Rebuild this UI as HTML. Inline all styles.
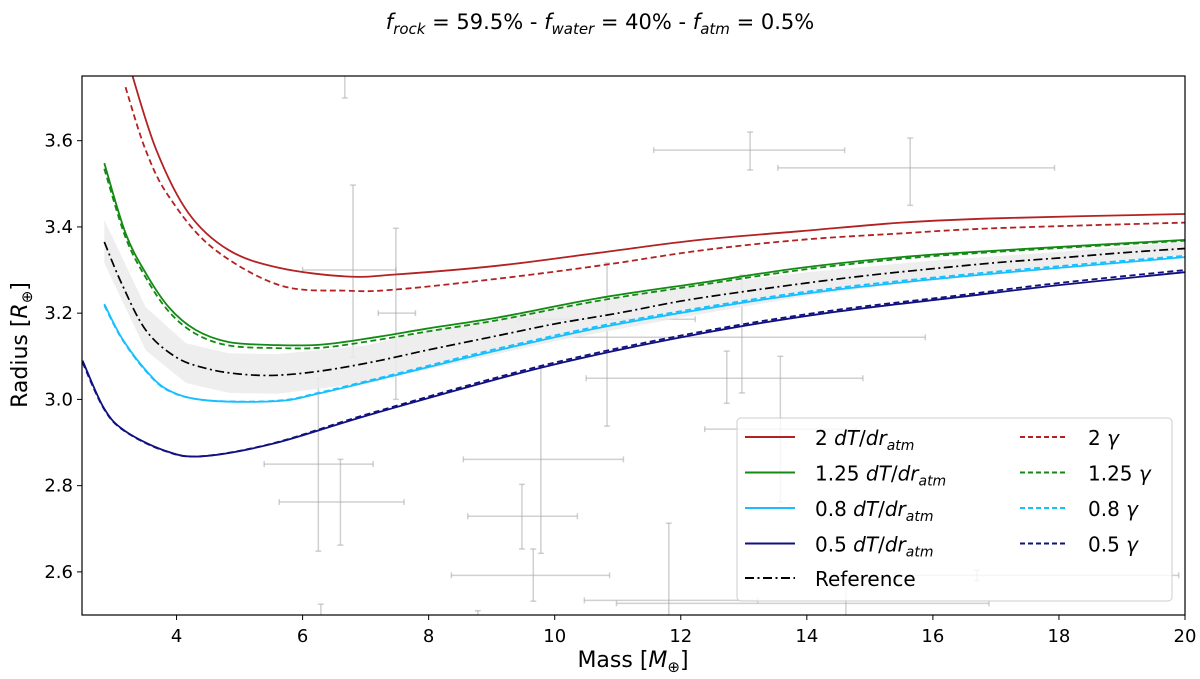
<!DOCTYPE html>
<html><head><meta charset="utf-8"><style>
html,body{margin:0;padding:0;background:#fff;}
svg{display:block;font-family:"DejaVu Sans","Liberation Sans",sans-serif;}
</style></head><body>
<svg id="chart" width="1200" height="679" viewBox="0 0 1200 679">
<defs><clipPath id="clip"><rect x="82" y="76" width="1103" height="539"/></clipPath></defs>
<text x="600" y="29" text-anchor="middle" font-size="21"><tspan font-style="italic">f</tspan><tspan font-size="15" dy="5" font-style="italic">rock</tspan><tspan dy="-5"> = 59.5% - </tspan><tspan font-style="italic">f</tspan><tspan font-size="15" dy="5" font-style="italic">water</tspan><tspan dy="-5"> = 40% - </tspan><tspan font-style="italic">f</tspan><tspan font-size="15" dy="5" font-style="italic">atm</tspan><tspan dy="-5"> = 0.5%</tspan></text>
<g id="errs" clip-path="url(#clip)"></g>
<g id="band" clip-path="url(#clip)"></g>
<g id="lines" clip-path="url(#clip)"></g>
<g id="axes"></g>
<g id="legend">
<rect x="737" y="418" width="435" height="183" rx="4" fill="#fff" fill-opacity="0.8" stroke="#ccc" stroke-width="1"/>
</g>
<text x="633" y="667" text-anchor="middle" font-size="22">Mass [<tspan font-style="italic">M</tspan><tspan font-size="15" dy="5">⊕</tspan><tspan dy="-5">]</tspan></text>
<text transform="translate(27,345) rotate(-90)" text-anchor="middle" font-size="22">Radius [<tspan font-style="italic">R</tspan><tspan font-size="15" dy="5">⊕</tspan><tspan dy="-5">]</tspan></text>
</svg>
<script>
const xTicks=[4,6,8,10,12,14,16,18,20];
const yTicks=[2.6,2.8,3.0,3.2,3.4,3.6];
const yTickLabels=["2.6","2.8","3.0","3.2","3.4","3.6"];
const redM=[3.28,3.68,4.19,4.83,5.63,6.7,7.5,9.1,10.7,12.3,13.9,15.5,17,20];
const redR=[3.76,3.578,3.432,3.346,3.305,3.285,3.29,3.31,3.34,3.37,3.39,3.41,3.42,3.43];
const redDM=[3.19,3.51,3.88,4.56,5.63,6.7,7.5,9.1,10.7,12.3,13.9,15.5,17,20];
const redDR=[3.724,3.578,3.47,3.353,3.265,3.252,3.255,3.28,3.31,3.345,3.37,3.385,3.397,3.41];
const greenM=[2.854,3.19,3.51,3.875,4.306,4.833,5.584,6.3,7.15,8,9.1,10.7,12.3,13.9,15.5,17,20];
const greenR=[3.548,3.386,3.293,3.214,3.161,3.133,3.126,3.127,3.144,3.165,3.19,3.235,3.27,3.305,3.33,3.345,3.37];
const greenDR=[3.535,3.376,3.283,3.204,3.152,3.125,3.119,3.12,3.137,3.158,3.184,3.229,3.265,3.3,3.326,3.342,3.368];
const blueM=[2.854,3.125,3.51,3.875,4.47,5.6,6.3,7.47,9.1,10.84,12.93,14.5,16.4,18,20];
const blueR=[3.221,3.144,3.068,3.021,2.998,2.996,3.015,3.056,3.114,3.17,3.223,3.255,3.284,3.305,3.33];
const blueDR=[3.218,3.142,3.066,3.02,2.998,2.997,3.017,3.059,3.118,3.174,3.227,3.259,3.288,3.309,3.333];
const navyM=[2.51,2.84,3.16,3.8,4.39,5.55,7.15,9.82,12.18,14.3,16.4,18,20];
const navyR=[3.09,2.982,2.929,2.882,2.868,2.898,2.968,3.075,3.149,3.2,3.237,3.265,3.295];
const navyDR=[3.085,2.98,2.928,2.881,2.868,2.899,2.971,3.079,3.153,3.204,3.241,3.27,3.3];
const refM=[2.854,3.125,3.51,3.99,4.47,4.99,5.58,6.3,7.15,8,9,10,11,12,13,14,15,16,17,18,19,20];
const refR=[3.365,3.27,3.161,3.098,3.072,3.059,3.056,3.066,3.088,3.115,3.145,3.175,3.2,3.228,3.25,3.27,3.288,3.303,3.317,3.328,3.34,3.35];
const bandM=[2.854,3.51,4.15,4.83,5.6,7,8,10,12,14,16,18,20];
const bandUpper=[3.416,3.214,3.13,3.107,3.105,3.125,3.16,3.215,3.26,3.295,3.322,3.342,3.365];
const bandLower=[3.316,3.114,3.038,3.015,3.013,3.038,3.07,3.135,3.19,3.24,3.278,3.308,3.335];
// observed planets: mass, mass-low, mass-high, radius, radius-low, radius-high
const errMass=[6.80,7.48,10.83,12.97,12.73,13.58,6.25,6.60,9.48,9.78,9.66,11.81,13.1,15.64,6.67,14.62,16.7,6.29,8.78];
const errMassLo=[6.00,7.20,9.42,9.96,10.50,12.38,5.39,5.63,8.62,8.55,8.36,10.47,11.57,13.54,6.5,10.98,15.4,6.29,8.78];
const errMassHi=[7.48,7.79,12.23,15.88,14.89,14.78,7.12,7.61,10.36,11.09,10.87,13.22,14.6,17.93,6.83,16.89,19.9,6.29,8.78];
const errRad=[3.30,3.20,3.186,3.144,3.049,2.931,2.85,2.762,2.729,2.861,2.592,2.534,3.578,3.537,3.85,2.527,2.592,2.45,2.45];
const errRadLo=[3.098,3.0,2.938,3.015,2.991,2.762,2.648,2.662,2.653,2.643,2.532,2.44,3.532,3.45,3.699,2.44,2.58,2.38,2.38];
const errRadHi=[3.497,3.397,3.316,3.288,3.112,3.10,3.049,2.861,2.803,3.077,2.653,2.713,3.62,3.606,4.0,2.592,2.604,2.525,2.51];

const X0=82,X1=1185,Y0=76,Y1=615,xmin=2.5,xmax=20,ymin=2.5,ymax=3.75;
function sx(m){return X0+(m-xmin)/(xmax-xmin)*(X1-X0);}
function sy(r){return Y1-(r-ymin)/(ymax-ymin)*(Y1-Y0);}
const NS="http://www.w3.org/2000/svg";
function mk(tag,parent,attrs){const e=document.createElementNS(NS,tag);for(const k in attrs)e.setAttribute(k,attrs[k]);parent.appendChild(e);return e;}
function smooth(pts){let d="M"+pts[0][0].toFixed(1)+","+pts[0][1].toFixed(1);
 for(let i=0;i<pts.length-1;i++){const p0=pts[Math.max(0,i-1)],p1=pts[i],p2=pts[i+1],p3=pts[Math.min(pts.length-1,i+2)];
 const c1=[p1[0]+(p2[0]-p0[0])/6,p1[1]+(p2[1]-p0[1])/6],c2=[p2[0]-(p3[0]-p1[0])/6,p2[1]-(p3[1]-p1[1])/6];
 d+="C"+c1[0].toFixed(1)+","+c1[1].toFixed(1)+" "+c2[0].toFixed(1)+","+c2[1].toFixed(1)+" "+p2[0].toFixed(1)+","+p2[1].toFixed(1);}
 return d;}
const errs=document.getElementById('errs');
for(let i=0;i<errMass.length;i++){
 const g=mk('g',errs,{stroke:'#aaa','stroke-opacity':'0.55','stroke-width':'1.5'});
 
 
 const x=sx(errMass[i]),y=sy(errRad[i]);
 if(errMassHi[i]>errMassLo[i]){const a=sx(errMassLo[i]),b=sx(errMassHi[i]);
  mk('line',g,{x1:a,x2:b,y1:y,y2:y});mk('line',g,{x1:a,x2:a,y1:y-3,y2:y+3});mk('line',g,{x1:b,x2:b,y1:y-3,y2:y+3});}
 const c=sy(errRadLo[i]),d=sy(errRadHi[i]);
 mk('line',g,{x1:x,x2:x,y1:c,y2:d});mk('line',g,{x1:x-3,x2:x+3,y1:c,y2:c});mk('line',g,{x1:x-3,x2:x+3,y1:d,y2:d});
}
const band=document.getElementById('band');
let bp=bandM.map((m,i)=>[sx(m),sy(bandUpper[i])]);let bl=bandM.map((m,i)=>[sx(m),sy(bandLower[i])]).reverse();
const bpath=mk('path',band,{d:"M"+bp.concat(bl).map(p=>p[0].toFixed(1)+","+p[1].toFixed(1)).join("L")+"Z",fill:'#ebebeb','fill-opacity':'0.85'});


const lines=document.getElementById('lines');
function series(M,R,color,dash,name,w){const p=mk('path',lines,{d:smooth(M.map((m,i)=>[sx(m),sy(R[i])])),fill:'none',stroke:color,'stroke-width':w||1.8,'stroke-dasharray':dash||'none'});
 
 }
series(redM,redR,'#b22222',null,'line-2-dtdr');
series(redDM,redDR,'#b22222','6,3.5','line-2-gamma');
series(greenM,greenR,'#138a13',null,'line-1-25-dtdr');
series(greenM,greenDR,'#138a13','6,3.5','line-1-25-gamma');
series(blueM,blueR,'#18bfff',null,'line-0-8-dtdr');
series(blueM,blueDR,'#18bfff','6,3.5','line-0-8-gamma');
series(navyM,navyR,'#101080',null,'line-0-5-dtdr');
series(navyM,navyDR,'#101080','6,3.5','line-0-5-gamma');
series(refM,refR,'#000','9,3.5,2,3.5','line-reference',1.7);
const axes=document.getElementById('axes');
const fr=mk('rect',axes,{x:X0,y:Y0,width:X1-X0,height:Y1-Y0,fill:'none',stroke:'#000','stroke-width':'1.2'});


xTicks.forEach(t=>{const x=sx(t);mk('line',axes,{x1:x,x2:x,y1:Y1,y2:Y1+5,stroke:'#000'});
 const tx=mk('text',axes,{x:x,y:Y1+27,'text-anchor':'middle','font-size':'18'});tx.textContent=String(t);
 
 });
yTicks.forEach((t,i)=>{const y=sy(t);mk('line',axes,{x1:X0-5,x2:X0,y1:y,y2:y,stroke:'#000'});
 const tx=mk('text',axes,{x:X0-9,y:y+6,'text-anchor':'end','font-size':'18'});tx.textContent=yTickLabels[i];
 
 });
const leg=document.getElementById('legend');
const legL=[["#b22222","none","2"],["#138a13","none","1.25"],["#18bfff","none","0.8"],["#101080","none","0.5"]];
legL.forEach((e,i)=>{const y=437+i*35.5;
 const g=mk('g',leg,{});
 mk('line',g,{x1:745,x2:795,y1:y,y2:y,stroke:e[0],'stroke-width':2});
 const t=mk('text',g,{x:815,y:y+8,'font-size':'20'});
 t.innerHTML=e[2]+' <tspan font-style="italic">dT</tspan>/<tspan font-style="italic">dr</tspan><tspan font-style="italic" font-size="14" dy="5">atm</tspan>';
 const g2=mk('g',leg,{});
 mk('line',g2,{x1:1020,x2:1067,y1:y,y2:y,stroke:e[0],'stroke-width':2,'stroke-dasharray':'5,3'});
 const t2=mk('text',g2,{x:1088,y:y+8,'font-size':'20'});
 t2.innerHTML=e[2]+' <tspan font-style="italic">γ</tspan>';});
const gr=mk('g',leg,{});
mk('line',gr,{x1:745,x2:795,y1:578,y2:578,stroke:'#000','stroke-width':2,'stroke-dasharray':'9,3.5,2,3.5'});
const tr=mk('text',gr,{x:815,y:586,'font-size':'20'});tr.textContent='Reference';
</script>
</body></html>
